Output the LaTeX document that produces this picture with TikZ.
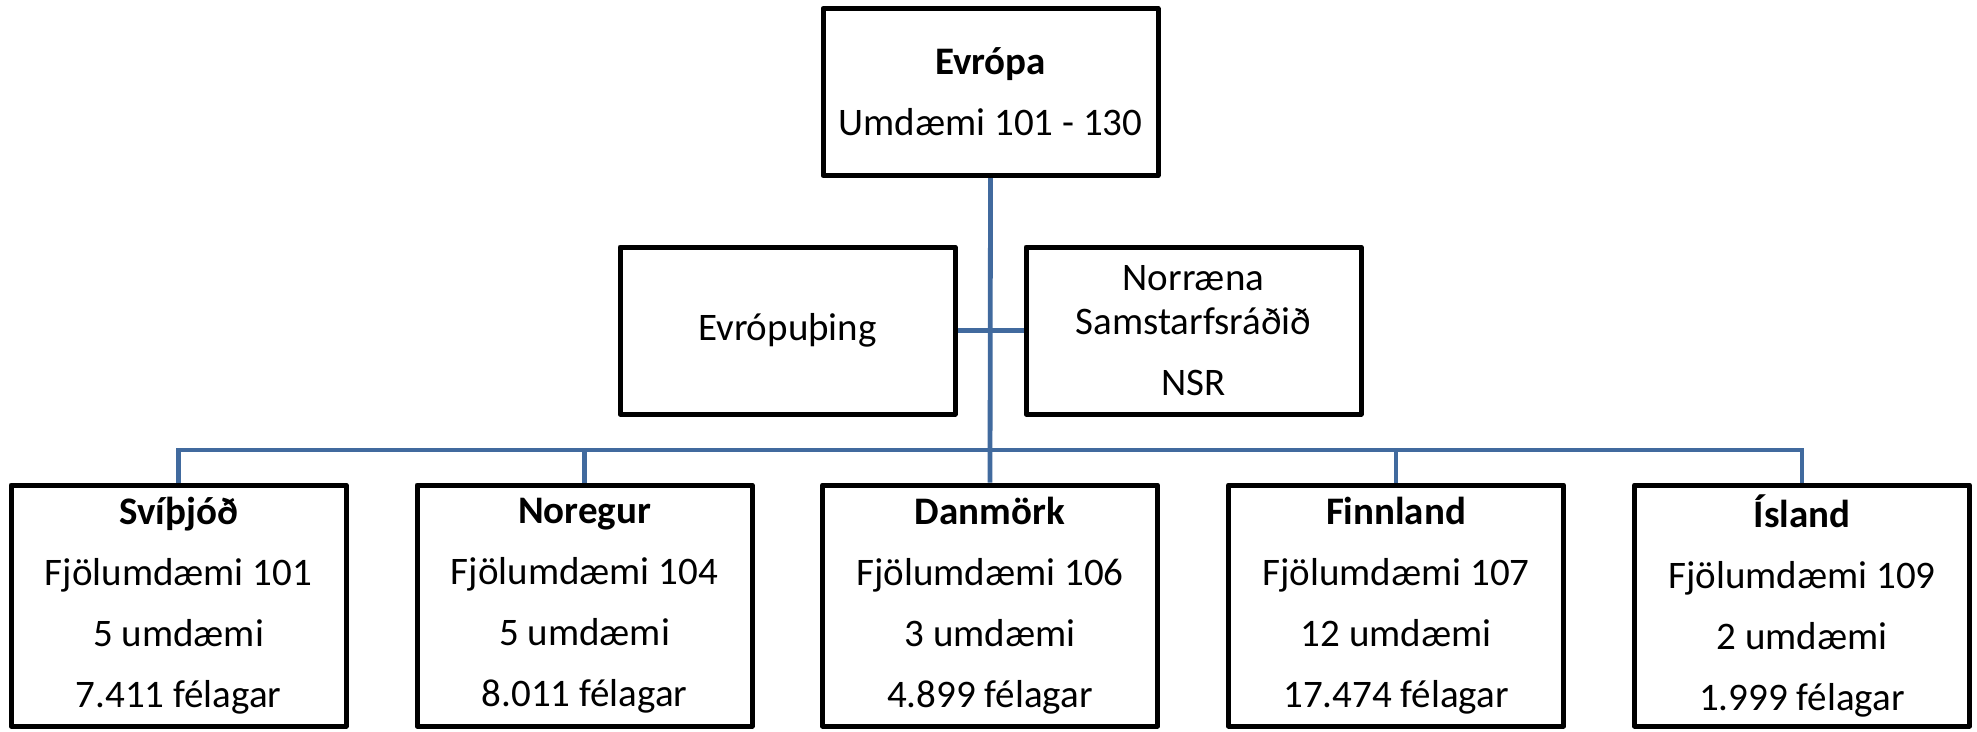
\documentclass[tikz,border=0pt]{standalone}
\usepackage{fontspec}
\setmainfont{Carlito}
\definecolor{connblue}{RGB}{65,106,158}
\tikzset{
  box/.style={draw=black, line width=5pt, line join=round, fill=white, inner sep=0pt,
    minimum width=335pt, align=center, font=\fontsize{39}{61}\selectfont},
  smallbox/.style={box, minimum height=167pt},
  bigbox/.style={box, minimum height=241pt},
  conn/.style={draw=connblue, line width=4.8pt}
}
\begin{document}
\begin{tikzpicture}[x=1pt,y=-1pt]
\useasboundingbox (0,0) rectangle (1977,731);
\coordinate (bus) at (990,450);
\node[smallbox] (top) at (990.5,92) {\textbf{Evrópa}\\Umdæmi 101 - 130};
\node[smallbox] (evp) at (787.5,330.5) {Evrópuþing};
\node[smallbox, font=\fontsize{39}{44}\selectfont] (nsr) at (1193.5,330.5) {Norræna\\Samstarfsráðið\\[17pt]NSR};
\node[bigbox] (svi) at (178.5,605.5) {\textbf{Svíþjóð}\\Fjölumdæmi 101\\5 umdæmi\\7.411 félagar};
\node[bigbox] (nor) at (584.5,605.5) {\textbf{Noregur}\\Fjölumdæmi 104\\5 umdæmi\\8.011 félagar};
\node[bigbox] (dan) at (990,605.5) {\textbf{Danmörk}\\Fjölumdæmi 106\\3 umdæmi\\4.899 félagar};
\node[bigbox] (fin) at (1396,605.5) {\textbf{Finnland}\\Fjölumdæmi 107\\12 umdæmi\\17.474 félagar};
\node[bigbox] (isl) at (1802,605.5) {\textbf{Ísland}\\Fjölumdæmi 109\\2 umdæmi\\1.999 félagar};
\draw[conn] (top.south) -- (dan.north);
\draw[conn] (evp.east) -- (nsr.west);
\draw[conn] (svi.north) |- (bus) -| (isl.north);
\draw[conn] (nor.north) -- (nor.north |- bus);
\draw[conn] (fin.north) -- (fin.north |- bus);
\end{tikzpicture}
\end{document}
